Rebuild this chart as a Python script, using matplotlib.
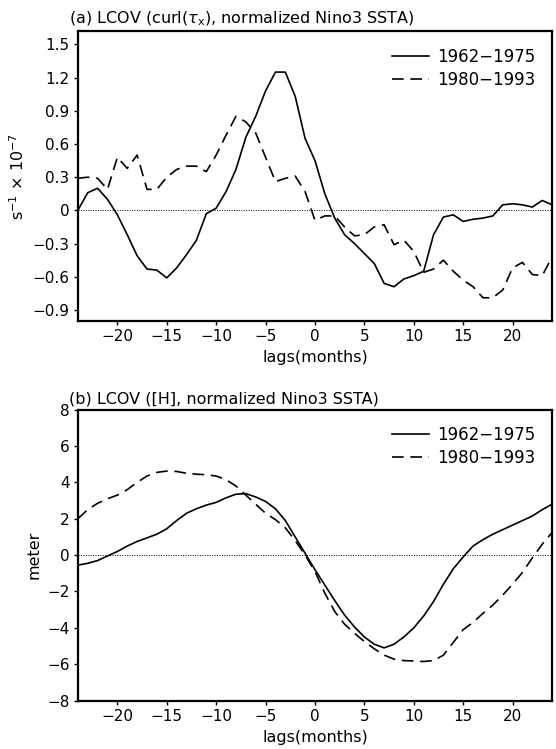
"""Lagged covariance of wind stress curl / heat content with Nino3 SSTA."""

import matplotlib
matplotlib.use("Agg")
import matplotlib.pyplot as plt

# ------------------------------------------------------------------ data
lags = list(range(-24, 25))

# (a) curl(tau_x) covariance, s^-1 x 10^-7
curl_6275 = [0.00, 0.16, 0.20, 0.10, -0.04, -0.22, -0.41, -0.53, -0.54, -0.61,
             -0.52, -0.40, -0.27, -0.03, 0.02, 0.17, 0.37, 0.66, 0.85, 1.08,
             1.25, 1.25, 1.03, 0.65, 0.45, 0.15, -0.07, -0.22, -0.30, -0.39,
             -0.48, -0.66, -0.69, -0.62, -0.59, -0.55, -0.22, -0.06, -0.04, -0.10,
             -0.08, -0.07, -0.05, 0.05, 0.06, 0.05, 0.03, 0.09, 0.05]
curl_8093 = [0.29, 0.30, 0.29, 0.19, 0.48, 0.38, 0.50, 0.19, 0.19, 0.30,
             0.37, 0.40, 0.40, 0.35, 0.50, 0.68, 0.85, 0.80, 0.70, 0.48,
             0.26, 0.29, 0.31, 0.17, -0.09, -0.05, -0.05, -0.15, -0.23, -0.22,
             -0.15, -0.13, -0.31, -0.27, -0.37, -0.56, -0.53, -0.45, -0.55, -0.63,
             -0.69, -0.79, -0.79, -0.72, -0.52, -0.47, -0.58, -0.59, -0.42]

# (b) [H] covariance, meter
h_6275 = [-0.55, -0.45, -0.30, -0.05, 0.20, 0.50, 0.75, 0.95, 1.15, 1.45,
          1.90, 2.30, 2.55, 2.75, 2.90, 3.15, 3.35, 3.38, 3.20, 2.95,
          2.55, 1.90, 1.00, 0.10, -0.80, -1.65, -2.50, -3.30, -3.95, -4.50,
          -4.90, -5.10, -4.90, -4.50, -4.00, -3.35, -2.55, -1.60, -0.75, -0.10,
          0.50, 0.85, 1.15, 1.40, 1.65, 1.90, 2.15, 2.50, 2.80]
h_8093 = [2.00, 2.50, 2.85, 3.10, 3.30, 3.60, 4.00, 4.35, 4.55, 4.62,
          4.60, 4.50, 4.45, 4.42, 4.35, 4.15, 3.80, 3.30, 2.80, 2.30,
          1.95, 1.50, 0.80, 0.00, -0.90, -2.10, -3.10, -3.80, -4.30, -4.75,
          -5.15, -5.50, -5.72, -5.80, -5.82, -5.85, -5.80, -5.50, -4.80, -4.10,
          -3.70, -3.20, -2.75, -2.20, -1.60, -0.95, -0.15, 0.60, 1.25]

labels = ["1962\u22121975", "1980\u22121993"]
xticks = [-20, -15, -10, -5, 0, 5, 10, 15, 20]
yticks_a = [-0.9, -0.6, -0.3, 0, 0.3, 0.6, 0.9, 1.2, 1.5]
ytick_labels_a = ["\u22120.9", "\u22120.6", "\u22120.3", "0", "0.3", "0.6", "0.9", "1.2", "1.5"]
yticks_b = [-8, -6, -4, -2, 0, 2, 4, 6, 8]

title_a = r"(a) LCOV (curl($\tau_{\mathsf{x}}$), normalized Nino3 SSTA)"
title_b = "(b) LCOV ([H], normalized Nino3 SSTA)"

# ------------------------------------------------------------------ plot
plt.rcParams["font.family"] = ["DejaVu Sans"]
plt.rcParams["mathtext.fontset"] = "dejavusans"

fig = plt.figure(figsize=(5.56, 7.49), dpi=100)
ax_a = fig.add_axes([0.140, 0.5714, 0.853, 0.387])
ax_b = fig.add_axes([0.140, 0.0646, 0.853, 0.3885])

DASH = (0, (7, 4))


def style_axes(ax, title, ylabel):
    ax.axhline(0, color="black", lw=0.7, ls=(0, (1, 1.5)), zorder=1)
    ax.set_xlim(-24, 24)
    ax.set_xticks(xticks)
    ax.tick_params(direction="out", length=3, width=1, labelsize=11, pad=3)
    for sp in ax.spines.values():
        sp.set_linewidth(1.6)
    ax.set_xlabel("lags(months)", fontsize=11.5, labelpad=4)
    ax.set_ylabel(ylabel, fontsize=11.5)
    ax.text(-0.018, 1.012, title, transform=ax.transAxes, ha="left",
            va="bottom", fontsize=11.5)
    leg = ax.legend(loc="upper right", frameon=False, fontsize=12,
                    handlelength=2.2, handletextpad=0.5, labelspacing=0.3,
                    borderaxespad=0.6)
    return leg


ax_a.plot(lags, curl_6275, color="black", lw=1.2, label=labels[0])
ax_a.plot(lags, curl_8093, color="black", lw=1.2, ls=DASH, label=labels[1])
ax_a.set_ylim(-1.0, 1.62)
ax_a.set_yticks(yticks_a)
ax_a.set_yticklabels(ytick_labels_a)
style_axes(ax_a, title_a, r"s$^{-1}$ $\times$ 10$^{-7}$")

ax_b.plot(lags, h_6275, color="black", lw=1.2, label=labels[0])
ax_b.plot(lags, h_8093, color="black", lw=1.2, ls=DASH, label=labels[1])
ax_b.set_ylim(-8, 8)
ax_b.set_yticks(yticks_b)
style_axes(ax_b, title_b, "meter")

fig.savefig("out.png", dpi=100)
